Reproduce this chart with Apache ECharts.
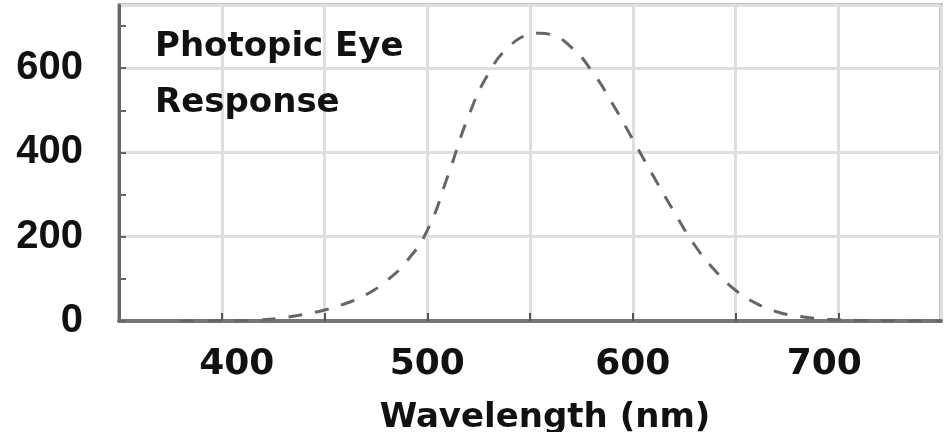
<!DOCTYPE html>
<html>
<head>
<meta charset="utf-8">
<script src="https://cdn.jsdelivr.net/npm/echarts@6/dist/echarts.min.js"></script>
<style>html,body{margin:0;padding:0;background:#fff}#c{width:945px;height:432px}</style>
</head>
<body>
<div id="c"></div>
<script>
// Wavelength (nm)
const wavelengths = [380,390,400,410,420,430,440,450,460,470,480,490,500,510,520,530,540,550,555,560,570,580,590,600,610,620,630,640,650,660,670,680,690,700,710,720,730,740,750];
// Photopic eye response (lm/W)
const response = [0.03,0.08,0.3,0.8,2.7,7.9,15.7,26,41,62,95,142,215,344,485,589,652,680,683,680,650,594,517,431,344,260,181,120,73,42,22,12,5.6,2.8,1.4,0.7,0.4,0.2,0.1];
const xTickLabels = [400,500,600,700];
const yTickLabels = [0,200,400,600];
const annotationLines = ['Photopic Eye','Response'];
const xTitle = 'Wavelength (nm)';

const chart = echarts.init(document.getElementById('c'), null, {renderer:'canvas'});
const labelShift = {400:[0,0,0,30], 700:[0,28,0,0]};
const rich = {};
xTickLabels.forEach(v => { rich['l'+v] = {padding: labelShift[v] || 0, fontFamily:'DejaVu Sans', fontWeight:'bold', fontSize:36, color:'#111'}; });

chart.setOption({
  animation:false,
  backgroundColor:'#fff',
  grid:{left:119,right:4,top:5,bottom:111,containLabel:false,outerBoundsMode:'none',show:true,borderColor:'#8c8c8c',borderWidth:3,backgroundColor:'transparent'},
  xAxis:{
    type:'value',min:350,max:750,interval:50,
    axisLine:{show:true,onZero:false,lineStyle:{color:'#767676',width:4}},
    axisTick:{show:true,inside:true,length:8,lineStyle:{color:'#555',width:2}},
    splitLine:{show:true,lineStyle:{color:'#dfdfdf',width:3}},
    axisLabel:{margin:26,showMinLabel:false,showMaxLabel:false,
      formatter:v => xTickLabels.includes(v) ? '{l'+v+'|'+v+'}' : '',
      rich:rich},
    name:xTitle,nameLocation:'middle',nameGap:80,
    nameTextStyle:{fontFamily:'DejaVu Sans',fontWeight:'bold',fontSize:34,color:'#111',padding:[0,0,0,30]}
  },
  yAxis:[{
    type:'value',min:0,max:750,interval:100,
    axisLine:{show:true,lineStyle:{color:'#666',width:3}},
    axisTick:{show:true,inside:true,length:7,lineStyle:{color:'#666',width:2}},
    splitLine:{show:false},
    axisLabel:{margin:36,showMaxLabel:false,fontFamily:'Liberation Sans',fontWeight:'bold',fontSize:40,color:'#111',
      formatter:v => yTickLabels.includes(v) ? String(v) : ''}
  },{
    type:'value',min:0,max:750,interval:200,position:'left',
    axisLine:{show:false},axisTick:{show:false},axisLabel:{show:false},
    splitLine:{show:true,lineStyle:{color:'#dfdfdf',width:3}}
  }],
  graphic:[
    {type:'text',left:155,top:30,z:10,style:{text:annotationLines[0],font:'bold 34px "DejaVu Sans"',fill:'#111'}},
    {type:'text',left:155,top:86,z:10,style:{text:annotationLines[1],font:'bold 34px "DejaVu Sans"',fill:'#111'}}
  ],
  series:[{
    type:'line',yAxisIndex:0,smooth:true,showSymbol:false,
    data:wavelengths.map((w,i)=>[w,response[i]]),
    lineStyle:{color:'#666',width:3,type:[14,13]},
    z:3
  }]
});
</script>
</body>
</html>
